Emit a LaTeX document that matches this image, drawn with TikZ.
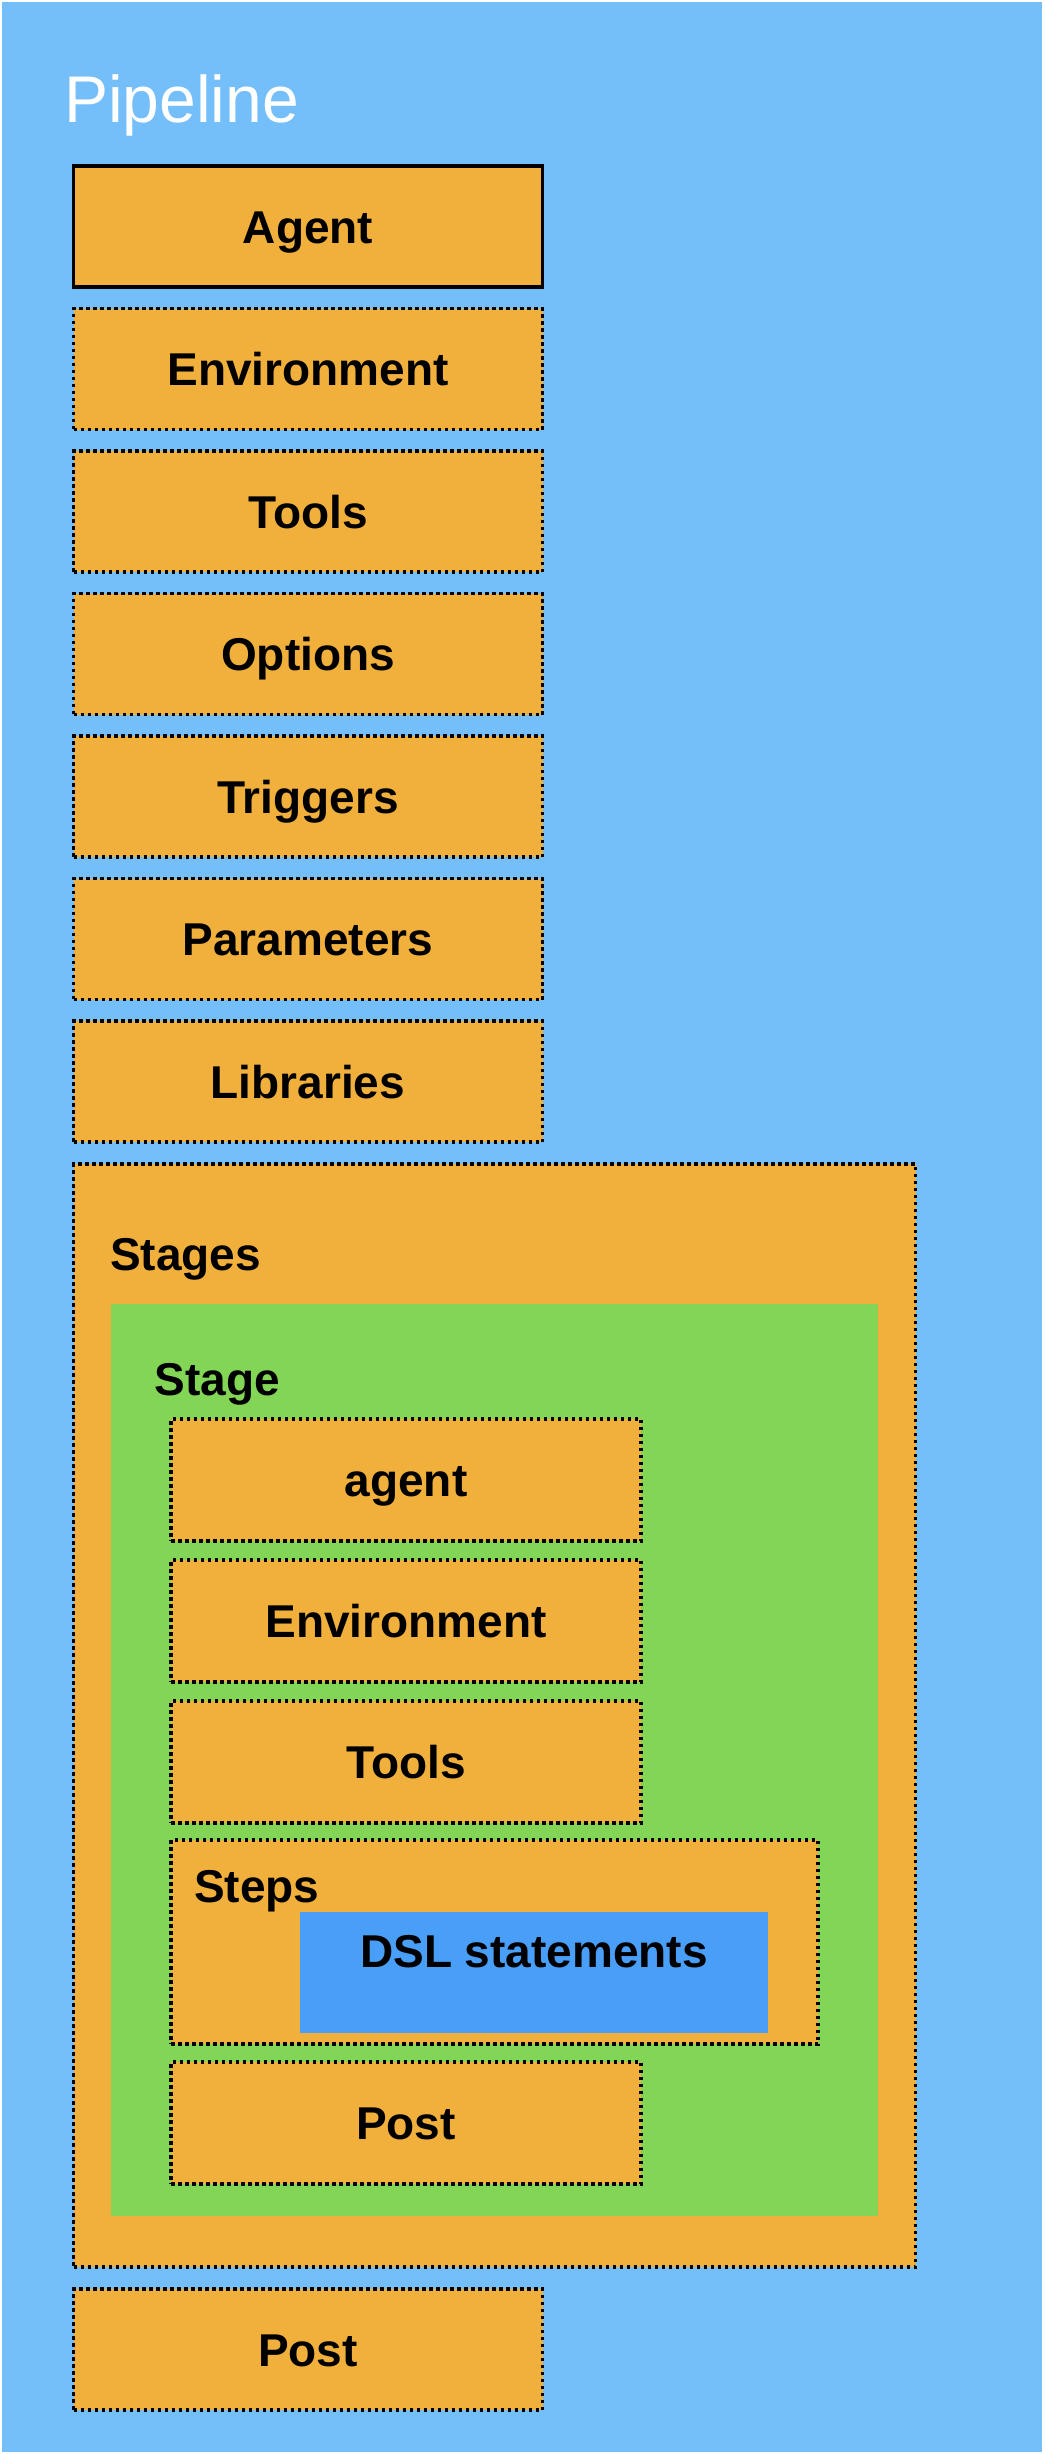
\documentclass[tikz,border=0pt]{standalone}
\usepackage{fontspec}
\setmainfont{Liberation Sans}
\definecolor{bgblue}{RGB}{116,190,249}
\definecolor{boxorange}{RGB}{241,176,60}
\definecolor{stagegreen}{RGB}{131,214,85}
\definecolor{dslblue}{RGB}{73,158,247}
\tikzset{
  lbl/.style={font=\fontsize{46}{55}\selectfont\bfseries, text height=33pt, text depth=0pt, inner sep=0pt},
  box/.style={anchor=north west, fill=boxorange, draw=black, line width=3.3pt,
    dash pattern=on 3.5pt off 3.5pt, inner sep=0pt, outer sep=0pt, lbl},
  topbox/.style={box, minimum width=469pt, minimum height=121pt},
  innerbox/.style={box, minimum width=470pt, minimum height=122pt},
  title/.style={anchor=base west, inner sep=0pt, font=\fontsize{46}{55}\selectfont\bfseries},
}
\begin{document}
\begin{tikzpicture}[x=1pt, y={(0pt,-1pt)}]
  \useasboundingbox (0,0) rectangle (1044,2454);
  \fill[white] (0,0) rectangle (1044,2454);
  \node[anchor=north west, fill=bgblue, inner sep=0pt, outer sep=0pt,
        minimum width=1040pt, minimum height=2450pt] (pipe) at (2,2) {};
  \node[anchor=base west, inner sep=0pt, text=white, font=\fontsize{66}{79}\selectfont]
        (pipelbl) at (64,123) {Pipeline};

  \node[topbox, solid] (agent) at (73.5,166) {Agent};
  \node[topbox] (env) at (73.5,308.5) {Environment};
  \node[topbox] (tools) at (73.5,451) {Tools};
  \node[topbox] (options) at (73.5,593.5) {Options};
  \node[topbox] (triggers) at (73.5,736) {Triggers};
  \node[topbox] (params) at (73.5,878.5) {Parameters};
  \node[topbox] (libs) at (73.5,1021) {Libraries};

  \node[box, minimum width=842pt, minimum height=1103pt] (stages) at (73.5,1164) {};
  \node[title] (stageslbl) at (110,1270) {Stages};

  \node[anchor=north west, fill=stagegreen, inner sep=0pt, outer sep=0pt,
        minimum width=767pt, minimum height=912pt] (stage) at (111,1304) {};
  \node[title] (stagelbl) at (154.5,1395) {Stage};

  \node[innerbox] (sagent) at (171,1419) {agent};
  \node[innerbox] (senv) at (171,1560) {Environment};
  \node[innerbox] (stools) at (171,1701) {Tools};
  \node[box, minimum width=647pt, minimum height=204pt] (steps) at (171,1840) {};
  \node[title] (stepslbl) at (194,1902) {Steps};
  \node[anchor=north west, fill=dslblue, inner sep=0pt, outer sep=0pt,
        minimum width=468pt, minimum height=121pt] (dsl) at (300,1912) {};
  \node[title, anchor=base] (dsllbl) at (534,1967) {DSL statements};
  \node[innerbox] (spost) at (171,2062) {Post};

  \node[topbox] (post) at (73.5,2289) {Post};
\end{tikzpicture}
\end{document}
